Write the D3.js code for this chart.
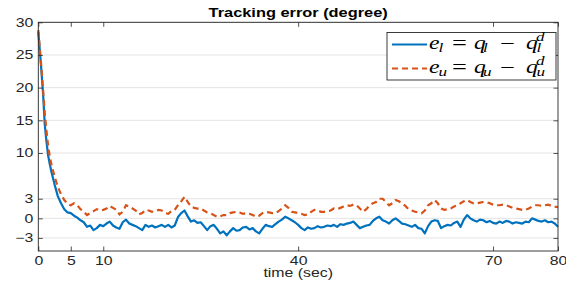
<!DOCTYPE html>
<html>
<head>
<meta charset="utf-8">
<script src="https://cdn.jsdelivr.net/npm/d3@7"></script>
<style>
html,body{margin:0;padding:0;background:#fff;}
svg{display:block;}
</style>
</head>
<body>
<div id="chart"></div>
<script>
// ---- data ----
const time = [0,0.25,0.5,0.75,1,1.25,1.5,1.75,2,2.5,3,3.5,4,4.5,
5,5.5,6,6.5,7,7.5,8,8.5,9,9.5,10,10.5,11,11.5,12,12.5,13,13.5,14,14.5,15,15.5,16,16.5,17,17.5,18,18.5,19,19.5,
20,20.5,21,21.5,22,22.5,23,23.5,24,24.5,25,25.5,26,26.5,27,27.5,28,28.5,29,29.5,30,30.5,31,31.5,32,32.5,33,33.5,34,34.5,
35,35.5,36,36.5,37,37.5,38,38.5,39,39.5,40,40.5,41,41.5,42,42.5,43,43.5,44,44.5,45,45.5,46,46.5,47,47.5,48,48.5,49,49.5,
50,50.5,51,51.5,52,52.5,53,53.5,54,54.5,55,55.5,56,56.5,57,57.5,58,58.5,59,59.5,60,60.5,61,61.5,62,62.5,63,63.5,64,64.5,
65,65.5,66,66.5,67,67.5,68,68.5,69,69.5,70,70.5,71,71.5,72,72.5,73,73.5,74,74.5,75,75.5,76,76.5,77,77.5,78,78.5,79,79.5,80];

const errLower = [28.5,25.5,22.3,18.8,14.3,11.8,9.7,8.4,7.2,5.2,3.4,2.3,1.4,0.9,
0.8,0.4,0.1,-0.3,-0.6,-1.3,-1.1,-1.8,-1.5,-1.0,-1.2,-0.8,-0.5,-1.1,-1.4,-1.6,-0.6,-0.2,-0.8,-1.0,-1.2,-1.5,-1.8,-1.0,-1.3,-1.1,-1.4,-1.2,-1.0,-1.3,
-1.0,-1.4,-1.1,0.2,0.8,1.2,0.3,-0.5,-0.3,-0.7,-0.6,-1.2,-1.8,-1.2,-1.0,-1.6,-2.3,-2.0,-2.6,-2.0,-1.5,-1.9,-1.8,-1.4,-1.3,-1.7,-1.5,-2.0,-2.3,-1.6,
-1.0,-1.2,-1.3,-0.9,-0.5,-0.2,0.25,0.0,-0.3,-0.6,-1.0,-1.5,-1.8,-1.4,-1.6,-1.5,-1.2,-1.4,-1.3,-1.1,-1.2,-1.0,-1.3,-0.9,-1.0,-0.8,-0.7,-0.5,-1.0,-1.5,
-1.3,-1.1,-1.0,-0.4,0.0,0.25,-0.3,-0.5,-0.8,-0.3,0.0,-0.4,-0.8,-0.9,-1.1,-1.3,-1.0,-1.5,-1.6,-2.3,-1.2,-0.5,-0.3,-0.4,-1.5,-1.2,-1.0,-1.1,-0.7,-0.5,
-1.3,-0.2,0.5,0.0,-0.3,-0.5,-0.2,-0.3,-0.6,-0.4,-0.7,-0.8,-0.5,-0.7,-0.4,-0.5,-0.8,-0.6,-0.7,-0.8,-0.5,-0.6,0.0,-0.2,-0.4,-0.5,-0.3,-0.6,-0.5,-0.8,-1.3];

const errUpper = [28.8,25.8,22.8,19.5,16.0,13.5,11.2,9.6,8.3,6.4,4.8,3.7,2.8,2.2,
2.0,2.3,2.0,1.4,1.0,0.5,0.8,1.1,1.4,1.2,1.3,1.5,1.9,1.6,1.3,0.6,1.0,2.0,1.8,1.5,1.2,0.6,0.8,1.3,1.2,1.0,1.1,1.3,1.2,0.8,
0.7,1.1,1.3,2.0,2.6,3.3,2.5,1.8,1.6,1.5,1.5,1.2,0.9,0.8,0.5,0.25,0.3,0.5,0.5,0.8,0.9,1.0,0.9,0.7,0.8,0.7,0.5,0.25,0.4,0.8,
1.0,0.9,0.8,0.8,1.1,1.5,2.0,1.6,1.0,0.9,0.8,0.7,0.5,0.6,1.0,1.3,1.2,1.0,1.0,1.1,1.2,1.5,1.4,1.6,1.8,2.0,1.9,2.1,2.0,1.5,
1.0,1.4,2.0,2.3,2.5,3.0,3.0,2.5,2.0,2.3,2.8,2.6,2.3,1.9,1.4,1.2,1.0,0.9,0.77,1.2,2.0,2.3,2.8,2.3,1.5,1.3,1.4,1.5,1.8,2.0,
2.3,2.6,2.8,2.5,2.3,2.3,2.4,2.5,2.5,2.3,2.1,2.0,2.0,2.1,2.0,1.8,1.6,1.5,1.4,1.3,1.3,1.5,1.8,2.0,2.0,1.9,2.0,2.1,1.9,1.8,1.7];

const xTicks = [0,5,10,40,70,80];
const yTicks = [-3,0,3,10,15,20,25,30];
const titleText = "Tracking error (degree)";
const xLabelText = "time (sec)";
const legendSubs = ["l","u"];

// ---- layout ----
const W = 566, H = 286;
const plotL = 38.3, plotR = 558, plotT = 22.3, plotB = 251;
const SX = 1.32; // horizontal stretch of text in the reference
const sans = "'Liberation Sans', Arial, Helvetica, sans-serif";
const serif = "'Liberation Serif', 'Times New Roman', serif";
const axisColor = "#262626";
const blue = "#0072BD", orange = "#D95319";

const svg = d3.select("#chart").append("svg").attr("width", W).attr("height", H);

const x = d3.scaleLinear().domain([0, 80]).range([plotL, plotR]);
const y = d3.scaleLinear().domain([-5, 30]).range([plotB, plotT]);

// grid
svg.append("g").selectAll("line").data(yTicks).join("line")
  .attr("x1", plotL).attr("x2", plotR)
  .attr("y1", d => y(d)).attr("y2", d => y(d))
  .attr("stroke", "#e3e3e3").attr("stroke-width", 1);

// lines
const line = d3.line().x((d, i) => x(time[i])).y(d => y(d));
const plot = svg.append("g");
plot.append("path").datum(errLower).attr("d", line)
  .attr("fill", "none").attr("stroke", blue).attr("stroke-width", 2.2).attr("stroke-linejoin", "round");
plot.append("path").datum(errUpper).attr("d", line)
  .attr("fill", "none").attr("stroke", orange).attr("stroke-width", 2.2).attr("stroke-dasharray", "6,4");

// axes
function styleAxis(g) {
  g.select(".domain").remove();
  g.selectAll(".tick line").attr("stroke", axisColor).attr("stroke-width", 0.8);
  g.selectAll(".tick text").attr("fill", axisColor).attr("font-family", sans).attr("font-size", 12);
}
const tickLen = 4.5;
const gx = svg.append("g").attr("transform", `translate(0,${plotB})`)
  .call(d3.axisBottom(x).tickValues(xTicks).tickFormat(d3.format("d")).tickSizeInner(-tickLen).tickSizeOuter(0).tickPadding(5.5))
  .call(styleAxis);
gx.selectAll(".tick text").attr("transform", `scale(${SX},1)`);

const gy = svg.append("g").attr("transform", `translate(${plotL},0)`)
  .call(d3.axisLeft(y).tickValues(yTicks).tickFormat(d3.format("d")).tickSizeInner(-tickLen).tickSizeOuter(0).tickPadding(5))
  .call(styleAxis);
gy.selectAll(".tick text").attr("transform", `scale(${SX},1)`).attr("x", -5 / SX);

svg.append("g").attr("transform", `translate(0,${plotT})`)
  .call(d3.axisTop(x).tickValues(xTicks).tickFormat("").tickSizeInner(-tickLen).tickSizeOuter(0))
  .call(styleAxis);
svg.append("g").attr("transform", `translate(${plotR},0)`)
  .call(d3.axisRight(y).tickValues(yTicks).tickFormat("").tickSizeInner(-tickLen).tickSizeOuter(0))
  .call(styleAxis);

// box
svg.append("rect").attr("x", plotL).attr("y", plotT).attr("width", plotR - plotL).attr("height", plotB - plotT)
  .attr("fill", "none").attr("stroke", axisColor).attr("stroke-width", 0.9);

// title & x label
svg.append("text").attr("transform", `translate(${(plotL + plotR) / 2},17) scale(${SX},1)`)
  .attr("text-anchor", "middle").attr("font-family", sans).attr("font-weight", "bold").attr("font-size", 12.4)
  .attr("fill", "#000").text(titleText);
svg.append("text").attr("transform", `translate(${(plotL + plotR) / 2},277) scale(${SX},1)`)
  .attr("text-anchor", "middle").attr("font-family", sans).attr("font-size", 12)
  .attr("fill", axisColor).text(xLabelText);

// legend
const lg = svg.append("g");
lg.append("rect").attr("x", 387).attr("y", 32.5).attr("width", 169).attr("height", 47.5)
  .attr("fill", "#fff").attr("stroke", axisColor).attr("stroke-width", 0.9);
const rowsY = [44.5, 68.5];
lg.append("line").attr("x1", 392).attr("x2", 427).attr("y1", rowsY[0]).attr("y2", rowsY[0])
  .attr("stroke", blue).attr("stroke-width", 2);
lg.append("line").attr("x1", 392).attr("x2", 427).attr("y1", rowsY[1]).attr("y2", rowsY[1])
  .attr("stroke", orange).attr("stroke-width", 2).attr("stroke-dasharray", "6,4");

// math label: e_s = q_s − q_s^d, positions in unscaled units (text is stretched by SX)
function mathLabel(x0, yb, sub) {
  const px = v => (v - x0) / SX;
  const t = lg.append("text").attr("transform", `translate(${x0},${yb}) scale(${SX},1)`)
    .attr("font-family", serif).attr("font-size", 18).attr("fill", "#000");
  t.append("tspan").attr("x", px(429)).attr("y", 0).attr("font-style", "italic").text("e");
  t.append("tspan").attr("x", px(438.5)).attr("y", 3).attr("font-style", "italic").attr("font-size", 13).text(sub);
  t.append("tspan").attr("x", px(452)).attr("y", 0.5).attr("font-size", 20).text("=");
  t.append("tspan").attr("x", px(474)).attr("y", 0).attr("font-style", "italic").text("q");
  t.append("tspan").attr("x", px(483)).attr("y", 3).attr("font-style", "italic").attr("font-size", 13).text(sub);
  t.append("tspan").attr("x", px(500)).attr("y", 0.5).attr("font-size", 20).text("\u2212");
  t.append("tspan").attr("x", px(526)).attr("y", 0).attr("font-style", "italic").text("q");
  t.append("tspan").attr("x", px(536)).attr("y", -8.5).attr("font-style", "italic").attr("font-size", 13).text("d");
  t.append("tspan").attr("x", px(536.5)).attr("y", 3).attr("font-style", "italic").attr("font-size", 13).text(sub);
}
mathLabel(429, 49, legendSubs[0]);
mathLabel(429, 73, legendSubs[1]);
</script>
</body>
</html>
